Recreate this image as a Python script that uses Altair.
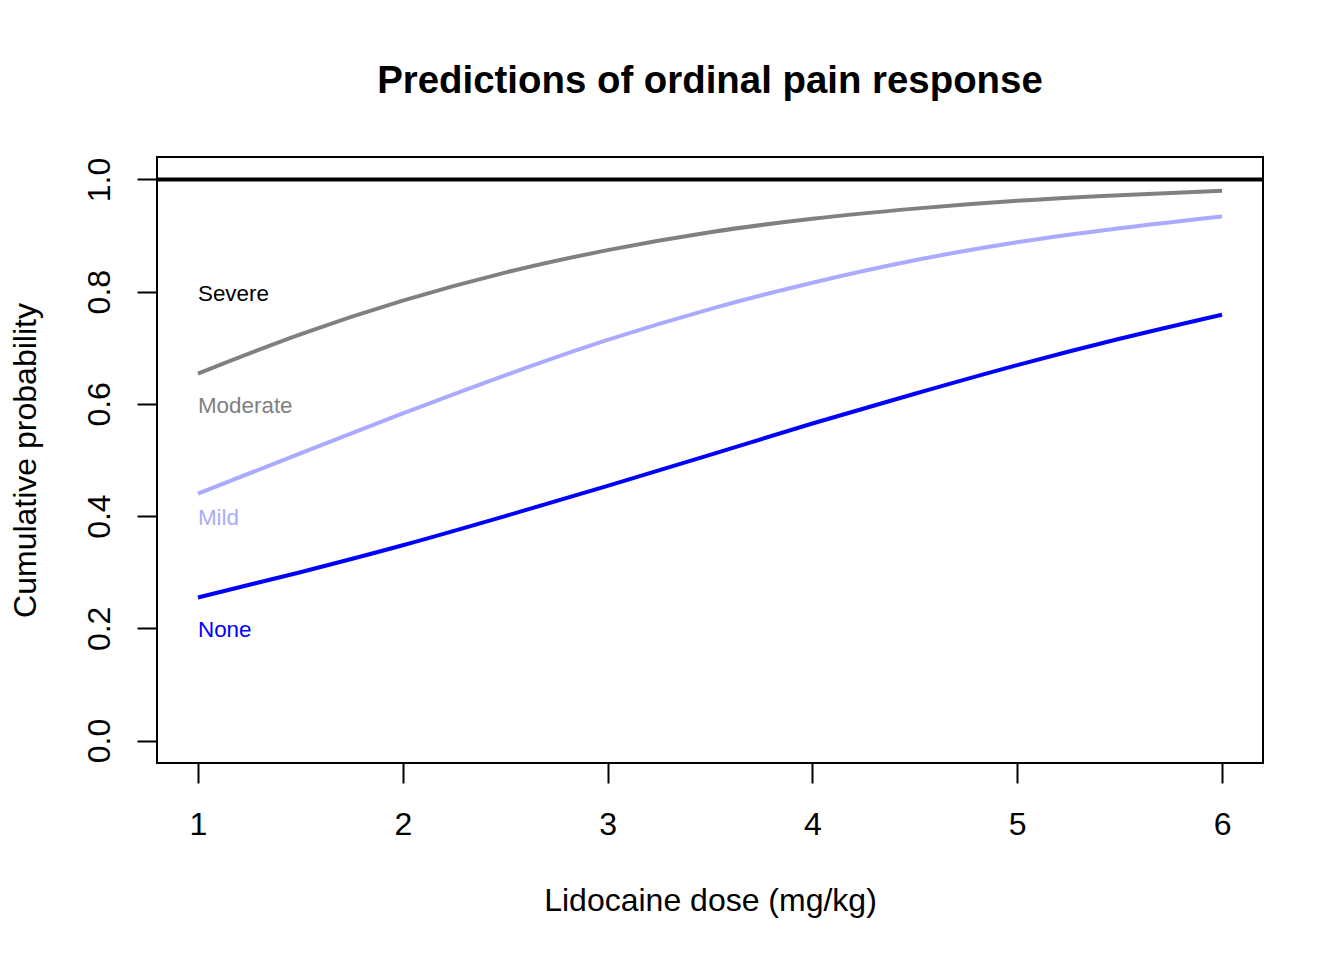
import altair as alt
import pandas as pd

dose = [1.0, 1.5, 2.0, 2.5, 3.0, 3.5, 4.0, 4.5, 5.0, 5.5, 6.0]
p_none = [0.255, 0.300, 0.348, 0.400, 0.454, 0.509, 0.565, 0.618, 0.669, 0.716, 0.759]
p_mild = [0.440, 0.512, 0.583, 0.651, 0.714, 0.769, 0.816, 0.856, 0.888, 0.913, 0.934]
p_moderate = [0.654, 0.724, 0.784, 0.834, 0.874, 0.906, 0.930, 0.948, 0.962, 0.972, 0.980]

label_names = ["Severe", "Moderate", "Mild", "None"]
label_y = [0.8, 0.6, 0.4, 0.2]
label_colors = ["#000000", "#808080", "#AAAAFF", "#0000FF"]

series_names = ["None", "Mild", "Moderate"]
series_colors = ["#0000FF", "#AAAAFF", "#808080"]

FONT = "Liberation Sans, Arial, Helvetica, sans-serif"

rows = []
for name, vals in zip(series_names, [p_none, p_mild, p_moderate]):
    for i, (d, v) in enumerate(zip(dose, vals)):
        rows.append({"dose": d, "prob": v, "series": name, "order": i})
lines_df = pd.DataFrame(rows)

labels_df = pd.DataFrame({"dose": [1.0] * 4, "prob": label_y, "label": label_names})

xscale = alt.Scale(domain=[0.8, 6.2], nice=False, zero=False)
yscale = alt.Scale(domain=[-0.04, 1.04], nice=False, zero=False)

xaxis = alt.Axis(
    values=[1, 2, 3, 4, 5, 6], format="d", title="Lidocaine dose (mg/kg)",
    domain=False, grid=False, ticks=True, tickSize=20, tickWidth=2, tickColor="black",
    labelFontSize=32, labelFont=FONT, labelColor="black", labelPadding=26,
    labelBaseline="top", labelFlush=False,
    titleFontSize=32, titleFont=FONT, titleColor="black", titleFontWeight="normal",
    titleBaseline="alphabetic", titleX=553, titleY=147, titleAnchor="middle",
)
yaxis = alt.Axis(
    values=[0, 0.2, 0.4, 0.6, 0.8, 1.0], format=".1f", title="Cumulative probability",
    domain=False, grid=False, ticks=True, tickSize=20, tickWidth=2, tickColor="black",
    labelFontSize=32, labelFont=FONT, labelColor="black", labelPadding=21,
    labelAngle=270, labelAlign="center", labelBaseline="bottom", labelFlush=False,
    titleFontSize=32, titleFont=FONT, titleColor="black", titleFontWeight="normal",
    titleBaseline="alphabetic", titleAngle=270, titleX=-122, titleY=303,
    titleAlign="center", titleAnchor="middle",
)

lines = alt.Chart(lines_df).mark_line(strokeWidth=4, clip=True, interpolate="monotone").encode(
    x=alt.X("dose:Q", scale=xscale, axis=xaxis),
    y=alt.Y("prob:Q", scale=yscale, axis=yaxis),
    color=alt.Color("series:N", scale=alt.Scale(domain=series_names, range=series_colors), legend=None),
    detail="series:N",
    order="order:Q",
)

top_rule = alt.Chart(pd.DataFrame({"prob": [1.0]})).mark_rule(color="black", strokeWidth=4).encode(
    y=alt.Y("prob:Q", scale=yscale)
)

texts = alt.Chart(labels_df).mark_text(
    align="left", baseline="middle", fontSize=22.4, font=FONT, dy=2
).encode(
    x=alt.X("dose:Q", scale=xscale),
    y=alt.Y("prob:Q", scale=yscale),
    color=alt.Color("label:N", scale=alt.Scale(domain=label_names, range=label_colors), legend=None),
    text="label:N",
)

chart = alt.layer(lines, top_rule, texts).resolve_scale(color="independent").properties(
    width=1106, height=606,
    background="white",
    autosize=alt.AutoSizeParams(type="none"),
    padding={"left": 149, "top": 149, "right": 73, "bottom": 189},
    title=alt.TitleParams(
        "Predictions of ordinal pain response", fontSize=38.4, font=FONT, fontWeight="bold",
        color="black", anchor="middle", frame="group", baseline="alphabetic", offset=26,
    ),
).configure_view(stroke="black", strokeWidth=2)

chart.save("out.html", embed_options={"renderer": "svg", "actions": False})
